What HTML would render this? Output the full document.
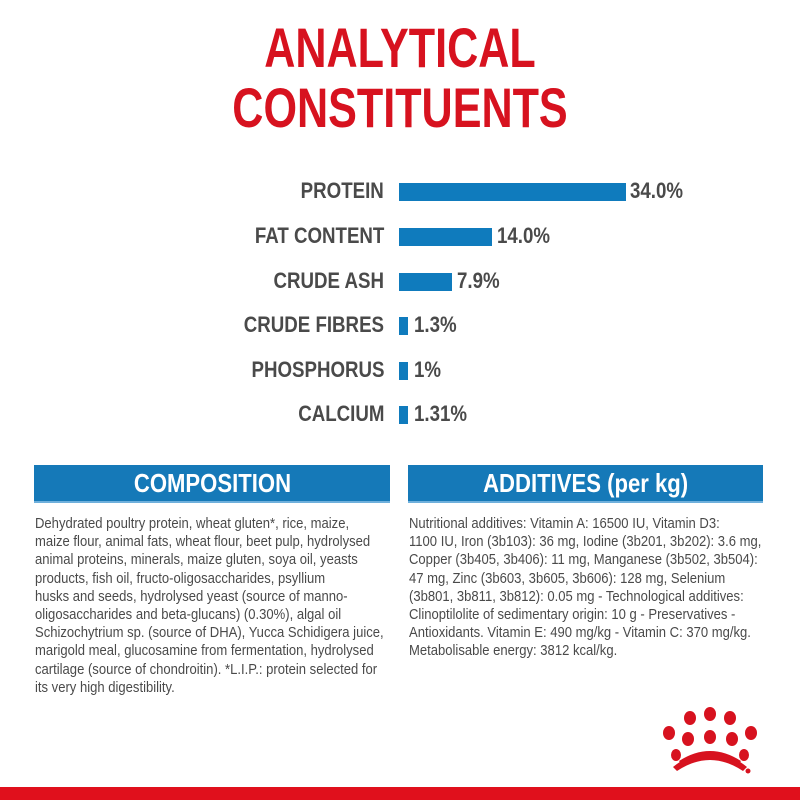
<!DOCTYPE html>
<html><head><meta charset="utf-8"><style>
body{margin:0;width:800px;height:800px;background:#fff;position:relative;overflow:hidden;font-family:"Liberation Sans Narrow","Liberation Sans",sans-serif}
.t{position:absolute;left:0;width:800px;text-align:center;color:#d7121f;font-weight:bold;font-size:56px;line-height:56px;transform:scaleX(0.77);}
.lab{position:absolute;right:416px;font-weight:bold;color:#4a4a4a;font-size:22px;line-height:24px;transform-origin:right center;transform:scaleX(0.85);white-space:nowrap}
.bar{position:absolute;left:399px;height:18px;background:#0f7bbd}
.val{position:absolute;font-weight:bold;color:#4a4a4a;font-size:22px;line-height:24px;transform-origin:left center;transform:scaleX(0.85);white-space:nowrap}
.box{position:absolute;top:465px;height:36px;background:#1579b8;border-bottom:2px solid #6fb0dc;color:#fff;font-weight:bold;font-size:26px;line-height:36px;text-align:center}
.box span{display:inline-block;transform:scaleX(0.85)}
.txt{position:absolute;top:515px;color:#4a4a4a;font-size:14.5px;line-height:18.2px;transform-origin:left top;transform:scaleX(0.9);white-space:nowrap}
</style></head><body>
<div class="t" style="top:20px">ANALYTICAL</div>
<div class="t" style="top:80px">CONSTITUENTS</div>

<div class="lab" style="top:179px">PROTEIN</div><div class="bar" style="top:183px;width:227px"></div><div class="val" style="left:630px;top:179px">34.0%</div>
<div class="lab" style="top:224px">FAT CONTENT</div><div class="bar" style="top:228px;width:93px"></div><div class="val" style="left:497px;top:224px">14.0%</div>
<div class="lab" style="top:269px">CRUDE ASH</div><div class="bar" style="top:273px;width:53px"></div><div class="val" style="left:457px;top:269px">7.9%</div>
<div class="lab" style="top:313px">CRUDE FIBRES</div><div class="bar" style="top:317px;width:9px"></div><div class="val" style="left:414px;top:313px">1.3%</div>
<div class="lab" style="top:358px">PHOSPHORUS</div><div class="bar" style="top:362px;width:9px"></div><div class="val" style="left:414px;top:358px">1%</div>
<div class="lab" style="top:402px">CALCIUM</div><div class="bar" style="top:406px;width:9px"></div><div class="val" style="left:414px;top:402px">1.31%</div>

<div class="box" style="left:34px;width:356px"><span>COMPOSITION</span></div>
<div class="box" style="left:408px;width:355px"><span>ADDITIVES (per kg)</span></div>

<div class="txt" style="left:35px">Dehydrated poultry protein, wheat gluten*, rice, maize,<br>maize flour, animal fats, wheat flour, beet pulp, hydrolysed<br>animal proteins, minerals, maize gluten, soya oil, yeasts<br>products, fish oil, fructo-oligosaccharides, psyllium<br>husks and seeds, hydrolysed yeast (source of manno-<br>oligosaccharides and beta-glucans) (0.30%), algal oil<br>Schizochytrium sp. (source of DHA), Yucca Schidigera juice,<br>marigold meal, glucosamine from fermentation, hydrolysed<br>cartilage (source of chondroitin). *L.I.P.: protein selected for<br>its very high digestibility.</div>
<div class="txt" style="left:409px">Nutritional additives: Vitamin A: 16500 IU, Vitamin D3:<br>1100 IU, Iron (3b103): 36 mg, Iodine (3b201, 3b202): 3.6 mg,<br>Copper (3b405, 3b406): 11 mg, Manganese (3b502, 3b504):<br>47 mg, Zinc (3b603, 3b605, 3b606): 128 mg, Selenium<br>(3b801, 3b811, 3b812): 0.05 mg - Technological additives:<br>Clinoptilolite of sedimentary origin: 10 g - Preservatives -<br>Antioxidants. Vitamin E: 490 mg/kg - Vitamin C: 370 mg/kg.<br>Metabolisable energy: 3812 kcal/kg.</div>

<svg style="position:absolute;left:655px;top:705px" width="115" height="70" viewBox="0 0 115 70">
<g fill="#d7121f">
<ellipse cx="35" cy="13" rx="6" ry="7"/><ellipse cx="55" cy="9" rx="6" ry="7"/><ellipse cx="75" cy="13" rx="6" ry="7"/>
<ellipse cx="14" cy="28" rx="6" ry="7"/><ellipse cx="96" cy="28" rx="6" ry="7"/>
<ellipse cx="33" cy="34" rx="6" ry="7"/><ellipse cx="55" cy="32" rx="6" ry="7"/><ellipse cx="77" cy="34" rx="6" ry="7"/>
<ellipse cx="21" cy="50" rx="5" ry="6"/><ellipse cx="89" cy="50" rx="5" ry="6"/>
<path d="M18 62 Q55 32 92 62 L88 66 Q55 44 22 66 Z"/>
<path d="M24 56 Q55 36 86 56 L84 59 Q55 42 26 59 Z"/>
<circle cx="93" cy="66" r="2.5"/>
</g></svg>

<div style="position:absolute;left:0;top:787px;width:800px;height:13px;background:#e0101c"></div>
</body></html>
